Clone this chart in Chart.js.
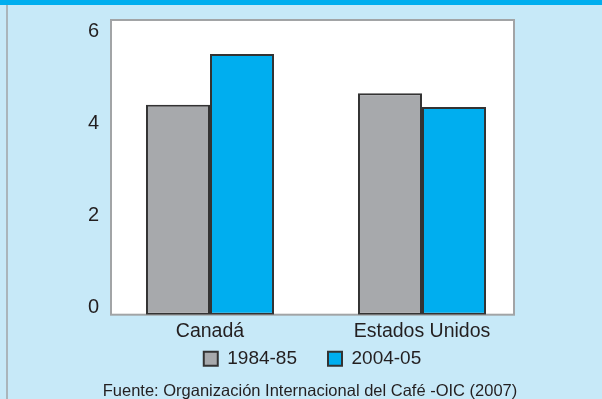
<!DOCTYPE html>
<html>
<head>
<meta charset="utf-8">
<script src="https://cdn.jsdelivr.net/npm/chart.js@4"></script>
<style>
  html, body { margin: 0; padding: 0; overflow: hidden; }
  body { width: 602px; height: 399px; background: #c7e9f8; position: relative; }
  #band { position: absolute; left: 0; top: 0; width: 602px; height: 5px; background: #00aeef; }
  #edge { position: absolute; left: 6px; top: 5px; width: 2px; height: 394px; background: #aab5bb; }
  #wrap { position: absolute; left: 0; top: 0; width: 620px; height: 399px; }
</style>
</head>
<body>
<div id="band"></div>
<div id="edge"></div>
<div id="wrap"><canvas id="chart"></canvas></div>
<script>
// Consumo de café: dos periodos por país
const categories = ['Canadá', 'Estados Unidos'];
const seriesNames = ['1984-85', '2004-05'];
const values1984 = [4.4, 4.65];
const values2004 = [5.5, 4.35];
const yTicks = [0, 2, 4, 6];
const sourceNote = 'Fuente: Organización Internacional del Café -OIC (2007)';

const FONT = '"Liberation Sans", Arial, sans-serif';
const INK = '#231f20';
const Y_MIN = -0.163;
const Y_MAX = 6.239;

// White plotting panel with a grey frame
const panel = {
  id: 'panel',
  beforeDatasetsDraw(chart) {
    const { ctx, chartArea: a } = chart;
    ctx.save();
    ctx.fillStyle = '#ffffff';
    ctx.fillRect(a.left, a.top, a.right - a.left, a.bottom - a.top);
    ctx.strokeStyle = '#a2a4a6';
    ctx.lineWidth = 2;
    ctx.strokeRect(a.left, a.top, a.right - a.left, a.bottom - a.top);
    ctx.restore();
  }
};

const toPoints = vals => vals.map((v, i) => ({ x: i, y: v }));

new Chart(document.getElementById('chart'), {
  type: 'bar',
  data: {
    datasets: [
      {
        label: seriesNames[0],
        data: toPoints(values1984),
        backgroundColor: '#a7a9ac',
        borderColor: '#333333',
        borderWidth: 2,
        borderSkipped: false,
        base: Y_MIN
      },
      {
        label: seriesNames[1],
        data: toPoints(values2004),
        backgroundColor: '#00aeef',
        borderColor: '#333333',
        borderWidth: 2,
        borderSkipped: false,
        base: Y_MIN
      }
    ]
  },
  options: {
    responsive: true,
    maintainAspectRatio: false,
    animation: false,
    categoryPercentage: 0.604,
    barPercentage: 1,
    layout: { padding: { top: 20, right: 0, left: 0, bottom: 0 } },
    scales: {
      x: {
        type: 'linear',
        offset: false,
        min: -0.467,
        max: 1.434,
        grid: { display: false, drawTicks: false },
        border: { display: false },
        afterBuildTicks: s => { s.ticks = categories.map((_, i) => ({ value: i })); },
        afterFit: s => { s.height = 24; },
        ticks: {
          padding: 5,
          color: INK,
          font: { family: FONT, size: 19.5 },
          callback: v => categories[v]
        }
      },
      y: {
        min: Y_MIN,
        max: Y_MAX,
        grid: { display: false, drawTicks: false },
        border: { display: false },
        afterBuildTicks: s => { s.ticks = yTicks.map(v => ({ value: v })); },
        afterFit: s => { s.width = 111; s.paddingTop = 0; s.paddingBottom = 0; },
        ticks: {
          padding: 12,
          color: INK,
          font: { family: FONT, size: 20 }
        }
      },
      // empty margin on the right of the panel
      yRight: {
        position: 'right',
        grid: { display: false, drawTicks: false },
        border: { display: false },
        ticks: { display: false },
        afterFit: s => { s.width = 106; s.paddingTop = 0; s.paddingBottom = 0; }
      }
    },
    plugins: {
      tooltip: { enabled: false },
      legend: {
        position: 'bottom',
        fullSize: false,
        // empty title with negative padding pulls the legend row up
        title: { display: true, text: '', font: { size: 10 }, padding: { top: -32.5, bottom: 0 } },
        labels: {
          boxWidth: 14,
          boxHeight: 14,
          padding: 31,
          color: INK,
          font: { family: FONT, size: 19 }
        }
      },
      title: {
        display: true,
        position: 'bottom',
        text: sourceNote,
        color: INK,
        font: { family: FONT, size: 16.5, weight: 'normal' },
        padding: { top: 3, bottom: -2 }
      }
    }
  },
  plugins: [panel]
});
</script>
</body>
</html>
